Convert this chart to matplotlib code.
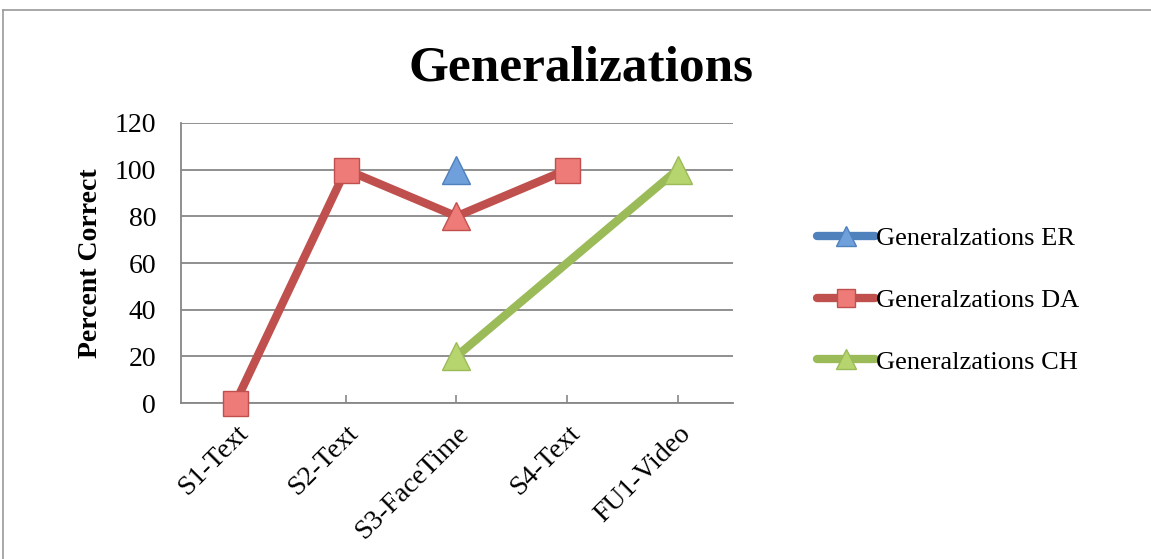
import numpy as np
import pandas as pd
import matplotlib
matplotlib.use('Agg')
import matplotlib.pyplot as plt
from matplotlib.lines import Line2D

categories = ['S1-Text', 'S2-Text', 'S3-FaceTime', 'S4-Text', 'FU1-Video']
er = [np.nan, np.nan, 100, np.nan, np.nan]
da = [0, 100, 80, 100, np.nan]
ch = [np.nan, np.nan, 20, np.nan, 100]
da_markers = ['s', 's', '^', 's', 's']

labels = ['Generalzations ER', 'Generalzations DA', 'Generalzations CH']
yticks = [0, 20, 40, 60, 80, 100, 120]

plt.rcParams['font.family'] = ['Liberation Serif', 'DejaVu Serif']

blue, blue_fill = '#4F81BD', '#6FA0DC'
red, red_fill = '#C0504D', '#EE7B78'
green, green_fill = '#9BBB59', '#B6D56E'

fig = plt.figure(figsize=(11.51, 5.59), dpi=100)
ax = fig.add_axes([0.1573, 0.279, 0.4795, 0.501])

x = np.arange(len(categories))
df = pd.DataFrame({'x': x, 'er': er, 'da': da, 'ch': ch, 'm': da_markers})

ms = 18
lw = 6
# lines (gaps connected)
d = df.dropna(subset=['da'])
ax.plot(d['x'], d['da'], color=red, lw=lw, solid_capstyle='butt', zorder=3)
d = df.dropna(subset=['ch'])
ax.plot(d['x'], d['ch'], color=green, lw=lw, solid_capstyle='butt', zorder=3)

# markers
d = df.dropna(subset=['er'])
ax.plot(d['x'], d['er'], ls='none', marker='^', ms=ms + 2, mfc=blue_fill, mec=blue, mew=1, zorder=4)
d = df.dropna(subset=['da'])
for _, r in d.iterrows():
    ax.plot(r['x'], r['da'], ls='none', marker=r['m'], ms=ms + (2 if r['m'] == '^' else 0),
            mfc=red_fill, mec=red, mew=1, zorder=4, clip_on=False)
d = df.dropna(subset=['ch'])
ax.plot(d['x'], d['ch'], ls='none', marker='^', ms=ms + 2, mfc=green_fill, mec=green, mew=1, zorder=4)

ax.set_xlim(-0.49, 4.5)
ax.set_ylim(0, 120)
ax.set_yticks(yticks)
ax.set_xticks(x)
ax.set_xticklabels(categories, rotation=45, ha='right', rotation_mode='anchor', fontsize=20)
ax.tick_params(axis='x', direction='in', length=6, color='#878787', width=1.2, pad=13)
ax.tick_params(axis='y', length=0, labelsize=20, pad=18)
ax.yaxis.grid(True, color='#878787', lw=1.3, zorder=0)
for s in ['top', 'right']:
    ax.spines[s].set_visible(False)
for s in ['left', 'bottom']:
    ax.spines[s].set_color('#878787')
    ax.spines[s].set_linewidth(1.3)
ax.set_ylabel('Percent Correct', fontsize=20, fontweight='bold', labelpad=8)

fig.text(0.505, 0.878, 'Generalizations', ha='center', va='center', fontsize=37, fontweight='bold')

handles = [
    Line2D([], [], color=blue, lw=6, solid_capstyle='round', marker='^', ms=14, mfc=blue_fill, mec=blue),
    Line2D([], [], color=red, lw=6, solid_capstyle='round', marker='s', ms=13, mfc=red_fill, mec=red),
    Line2D([], [], color=green, lw=6, solid_capstyle='round', marker='^', ms=14, mfc=green_fill, mec=green),
]
fig.legend(handles, labels, loc='center left', bbox_to_anchor=(0.698, 0.463), frameon=False,
           fontsize=19, handlelength=2.2, handletextpad=0.05, labelspacing=1.45, borderpad=0)

# chart border
fig.add_artist(Line2D([3 / 1151, 3 / 1151], [0, 1 - 10 / 559], color='#9a9a9a', lw=1.2))
fig.add_artist(Line2D([3 / 1151, 1], [1 - 10 / 559, 1 - 10 / 559], color='#9a9a9a', lw=1.2))

fig.savefig('out.png', dpi=100)
